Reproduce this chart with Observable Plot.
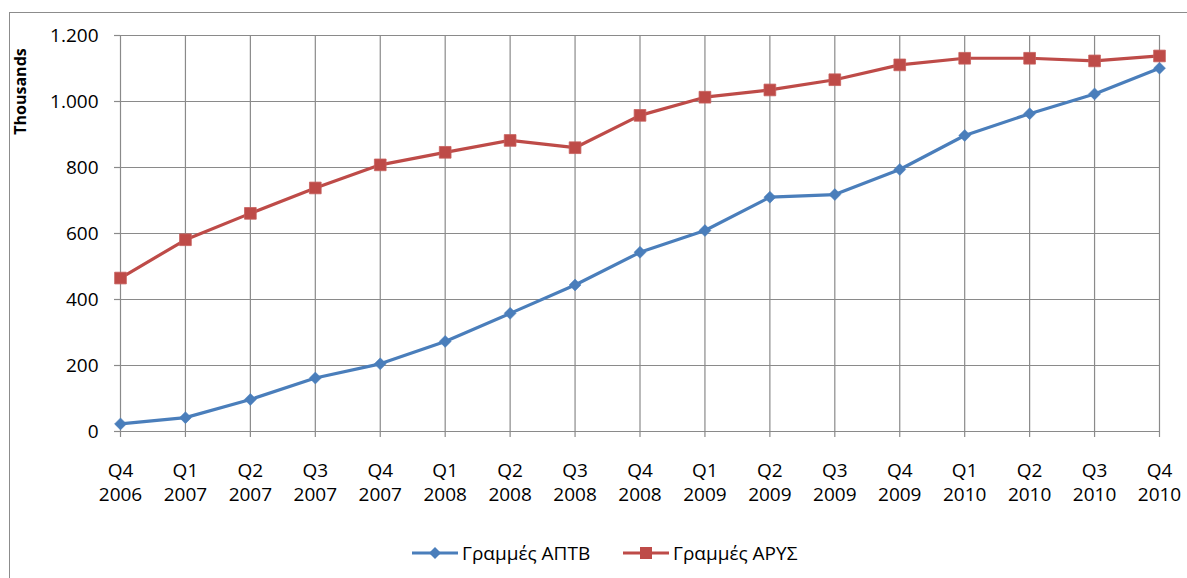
<!DOCTYPE html>
<html><head><meta charset="utf-8">
<script src="https://cdn.jsdelivr.net/npm/d3@7"></script>
<script src="https://cdn.jsdelivr.net/npm/@observablehq/plot@0.6"></script>
<style>
body{margin:0;background:#fff;font-family:"Open Sans",sans-serif;}
#wrap{position:relative;width:1187px;height:578px;overflow:hidden;background:#fff;}
#frame{position:absolute;left:9px;top:12px;width:1400px;height:800px;border-left:1px solid #8c8c8c;border-top:1px solid #8c8c8c;}
#chart{position:absolute;left:0;top:0;}
.leg{position:absolute;top:540px;height:26px;display:flex;align-items:center;font-size:19px;color:#000;white-space:nowrap;}
.leg svg{margin-right:4px;}
</style></head>
<body>
<div id="wrap"><div id="frame"></div><div id="chart"></div><div id="legend"></div></div>
<script>
const quarters = ["Q4 2006","Q1 2007","Q2 2007","Q3 2007","Q4 2007","Q1 2008","Q2 2008","Q3 2008","Q4 2008","Q1 2009","Q2 2009","Q3 2009","Q4 2009","Q1 2010","Q2 2010","Q3 2010","Q4 2010"];
const seriesNames = ["Γραμμές ΑΠΤΒ","Γραμμές ΑΡΥΣ"];
const aptb = [23, 42, 97, 162, 205, 273, 358, 444, 543, 609, 710, 718, 794, 897, 963, 1023, 1101];
const arys = [465, 581, 661, 738, 808, 846, 882, 860, 958, 1013, 1035, 1066, 1111, 1131, 1131, 1123, 1138];
const yTicks = [0, 200, 400, 600, 800, 1000, 1200];
const yLabel = ["Thousands"];
const colors = ["#4a7ebb", "#be4b48"];

const rows = [];
quarters.forEach((q, i) => {
  rows.push({q, s: seriesNames[0], v: aptb[i]});
  rows.push({q, s: seriesNames[1], v: arys[i]});
});
const grid = "#8a8a8a";
const fmt = d => d3.format(",")(d).replace(/,/g, ".");

const chart = Plot.plot({
  width: 1187,
  height: 520,
  marginLeft: 120,
  marginRight: 28,
  marginTop: 35,
  marginBottom: 89,
  style: {fontFamily: "'Open Sans', sans-serif", fontSize: "19px", color: "#000", background: "transparent"},
  x: {type: "point", domain: quarters, padding: 0, round: false},
  y: {domain: [0, 1200]},
  color: {domain: seriesNames, range: colors},
  marks: [
    Plot.gridX(quarters, {stroke: grid, strokeOpacity: 1, strokeWidth: 1.2}),
    Plot.gridY(yTicks, {stroke: grid, strokeOpacity: 1, strokeWidth: 1.2}),
    Plot.axisY(yTicks, {tickSize: 6, tickPadding: 16, stroke: grid, strokeWidth: 1.2, tickFormat: fmt, label: null, fontSize: 19, fill: "#000"}),
    Plot.axisX(quarters, {tickSize: 6, tickPadding: 22, stroke: grid, strokeWidth: 1.2, tickFormat: d => d.replace(" ", "\n"), lineHeight: 1.28, label: null, fontSize: 19, fill: "#000"}),
    Plot.text(yLabel, {frameAnchor: "top-left", text: d => d, rotate: -90, dx: -100, dy: 56, textAnchor: "middle", lineAnchor: "middle", fontWeight: "bold", fontSize: 16, fill: "#000"}),
    Plot.line(rows, {x: "q", y: "v", z: "s", stroke: "s", strokeWidth: 3.2}),
    Plot.dot(rows.filter(d => d.s === seriesNames[0]), {x: "q", y: "v", symbol: "diamond2", r: 5.4, fill: colors[0], stroke: colors[0], strokeWidth: 0.5}),
    Plot.dot(rows.filter(d => d.s === seriesNames[1]), {x: "q", y: "v", symbol: "square", r: 6.6, fill: colors[1], stroke: "#c8605d", strokeWidth: 0.8})
  ]
});
document.getElementById("chart").appendChild(chart);

const legend = document.getElementById("legend");
const legLeft = [412, 623];
seriesNames.forEach((name, i) => {
  const div = document.createElement("div");
  div.className = "leg";
  div.style.left = legLeft[i] + "px";
  const marker = i === 0
    ? `<path d="M23,7 L29,13 L23,19 L17,13 Z" fill="${colors[0]}"/>`
    : `<rect x="17" y="7" width="12" height="12" fill="${colors[1]}"/>`;
  div.innerHTML = `<svg width="46" height="26"><line x1="0" x2="46" y1="13" y2="13" stroke="${colors[i]}" stroke-width="3.2"/>${marker}</svg><span>${name}</span>`;
  legend.appendChild(div);
});
</script>
</body></html>
